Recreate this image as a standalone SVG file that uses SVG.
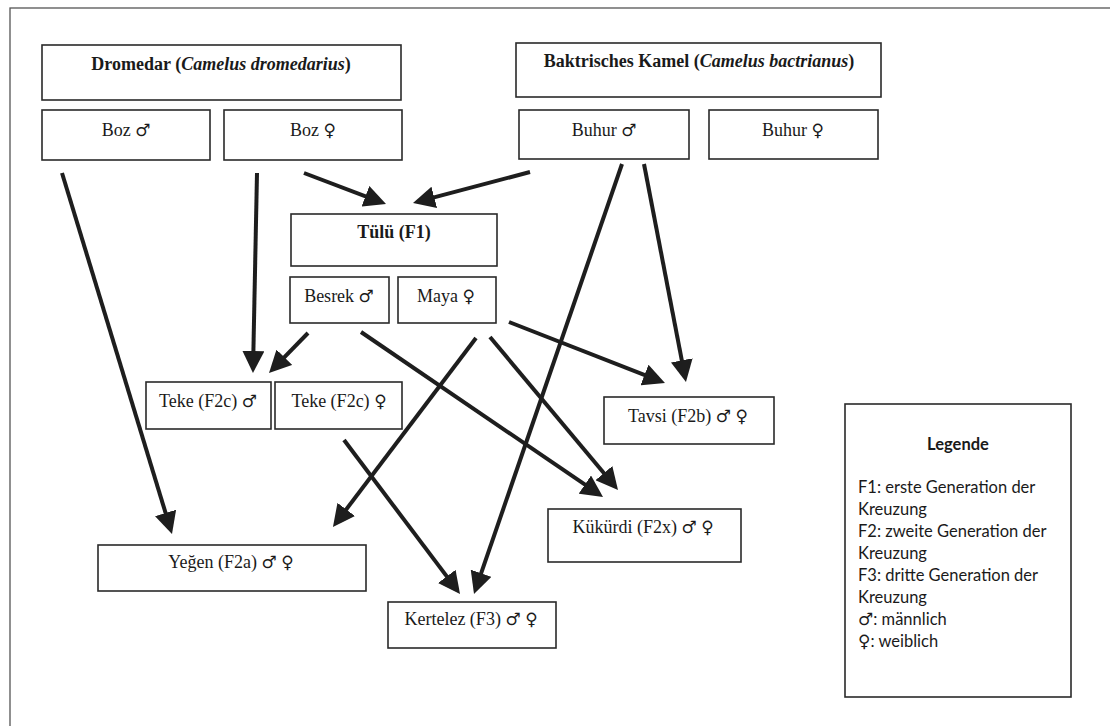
<svg xmlns="http://www.w3.org/2000/svg" width="1110" height="726" viewBox="0 0 1110 726">
<defs>
<style>
.box{fill:#fff;stroke:#2a2a2a;stroke-width:1.6}
.t{font-family:"Liberation Serif","DejaVu Serif",serif;font-size:18px;fill:#1a1a1a;text-anchor:middle}
.b{font-weight:bold}
.i{font-style:italic}
.s{font-family:"DejaVu Sans",sans-serif;font-size:17px;font-weight:normal;font-style:normal}
.leg{font-family:Lato,"Open Sans",sans-serif;font-size:16.5px;fill:#1a1a1a}
.edge{stroke:#1e1e1e;stroke-width:4;fill:none;marker-end:url(#ah)}
</style>
<marker id="ah" markerUnits="userSpaceOnUse" markerWidth="23" markerHeight="22" refX="10" refY="11" orient="auto">
<path d="M0,0 L22,11 L0,22 z" fill="#1e1e1e"/>
</marker>
</defs>
<rect x="0" y="0" width="1110" height="726" fill="#fff"/>
<rect id="frame" x="10" y="8" width="1110" height="730" fill="none" stroke="#555" stroke-width="1.3"/>

<g id="dromedar"><rect class="box" x="42" y="45" width="359" height="55"/><text class="t b" x="221" y="70">Dromedar (<tspan class="i">Camelus dromedarius</tspan>)</text></g>
<g id="baktrisch"><rect class="box" x="516" y="43" width="365" height="54"/><text class="t b" x="699" y="67">Baktrisches Kamel (<tspan class="i">Camelus bactrianus</tspan>)</text></g>
<g id="boz-m"><rect class="box" x="42" y="110" width="168" height="50"/><text class="t" x="126" y="136">Boz <tspan class="s">♂</tspan></text></g>
<g id="boz-f"><rect class="box" x="224" y="110" width="178" height="50"/><text class="t" x="313" y="136">Boz <tspan class="s">♀</tspan></text></g>
<g id="buhur-m"><rect class="box" x="519" y="110" width="170" height="49"/><text class="t" x="604" y="136">Buhur <tspan class="s">♂</tspan></text></g>
<g id="buhur-f"><rect class="box" x="709" y="110" width="169" height="49"/><text class="t" x="793" y="136">Buhur <tspan class="s">♀</tspan></text></g>
<g id="tulu"><rect class="box" x="291" y="214" width="206" height="52"/><text class="t b" x="394" y="238">Tülü (F1)</text></g>
<g id="besrek"><rect class="box" x="290" y="277" width="99" height="46"/><text class="t" x="339" y="302">Besrek <tspan class="s">♂</tspan></text></g>
<g id="maya"><rect class="box" x="398" y="277" width="98" height="46"/><text class="t" x="446" y="302">Maya <tspan class="s">♀</tspan></text></g>
<g id="teke-m"><rect class="box" x="146" y="382" width="125" height="47"/><text class="t" x="208" y="407">Teke (F2c) <tspan class="s">♂</tspan></text></g>
<g id="teke-f"><rect class="box" x="275" y="382" width="127" height="47"/><text class="t" x="339" y="407">Teke (F2c) <tspan class="s">♀</tspan></text></g>
<g id="tavsi"><rect class="box" x="604" y="397" width="170" height="47"/><text class="t" x="688" y="422">Tavsi (F2b) <tspan class="s">♂</tspan> <tspan class="s">♀</tspan></text></g>
<g id="kukurdi"><rect class="box" x="548" y="509" width="193" height="53"/><text class="t" x="643" y="533">Kükürdi (F2x) <tspan class="s">♂</tspan> <tspan class="s">♀</tspan></text></g>
<g id="yegen"><rect class="box" x="98" y="545" width="268" height="46"/><text class="t" x="231" y="568">Yeğen (F2a) <tspan class="s">♂</tspan> <tspan class="s">♀</tspan></text></g>
<g id="kertelez"><rect class="box" x="388" y="602" width="168" height="46"/><text class="t" x="471" y="625">Kertelez (F3) <tspan class="s">♂</tspan> <tspan class="s">♀</tspan></text></g>

<g id="legende">
<rect class="box" x="845" y="404" width="226" height="293"/>
<text class="leg" x="958" y="450" text-anchor="middle" font-weight="bold">Legende</text>
<text class="leg" x="858" y="493">F1: erste Generation der</text>
<text class="leg" x="858" y="515">Kreuzung</text>
<text class="leg" x="858" y="537">F2: zweite Generation der</text>
<text class="leg" x="858" y="559">Kreuzung</text>
<text class="leg" x="858" y="581">F3: dritte Generation der</text>
<text class="leg" x="858" y="603">Kreuzung</text>
<text class="leg" x="858" y="625"><tspan class="s">♂</tspan>: männlich</text>
<text class="leg" x="858" y="647"><tspan class="s">♀</tspan>: weiblich</text>
</g>

<g id="connectors">
<line class="edge" x1="62" y1="173" x2="168.5" y2="522.5"/>
<line class="edge" x1="257" y1="173" x2="253.2" y2="361"/>
<line class="edge" x1="304" y1="173" x2="374.8" y2="199.8"/>
<line class="edge" x1="530" y1="172" x2="424.6" y2="199.9"/>
<line class="edge" x1="622" y1="164" x2="477.9" y2="582.7"/>
<line class="edge" x1="644" y1="164" x2="683.7" y2="370.2"/>
<line class="edge" x1="308" y1="333" x2="277.4" y2="364.4"/>
<line class="edge" x1="361" y1="332" x2="593.1" y2="490.2"/>
<line class="edge" x1="476" y1="338" x2="340.2" y2="517.4"/>
<line class="edge" x1="490" y1="337" x2="610.3" y2="480.8"/>
<line class="edge" x1="509" y1="322" x2="653.8" y2="378.6"/>
<line class="edge" x1="344" y1="440" x2="452.8" y2="584.4"/>
</g>
</svg>
